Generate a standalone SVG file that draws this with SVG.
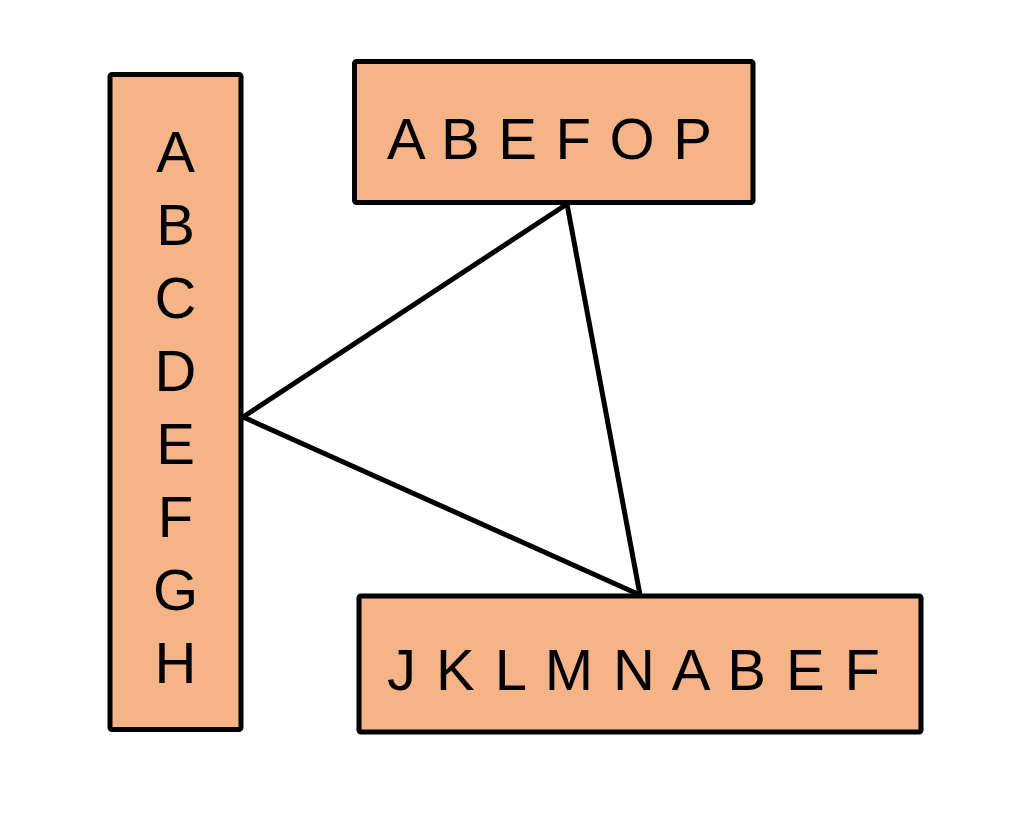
<svg xmlns="http://www.w3.org/2000/svg" width="1020" height="820" viewBox="0 0 1020 820">
<style>
.box{fill:#F5B388;stroke:#000;stroke-width:5}
.t{font-family:"Liberation Sans",Arial,sans-serif;font-size:58px;fill:#000}
.c{text-anchor:middle}
.ln{stroke:#000;stroke-width:5;fill:none;stroke-linecap:round}
</style>
<rect width="1020" height="820" fill="#fff"/>
<g id="connectors">
<line class="ln" x1="243" y1="417" x2="567" y2="204"/>
<line class="ln" x1="243" y1="417" x2="640" y2="595"/>
<line class="ln" x1="567" y1="204" x2="640" y2="595"/>
</g>
<g id="node-left">
<rect class="box" x="110" y="74.5" width="131" height="655" rx="2"/>
<text class="t c" x="175.5" y="172">A</text>
<text class="t c" x="175.5" y="245">B</text>
<text class="t c" x="175.5" y="318">C</text>
<text class="t c" x="175.5" y="391">D</text>
<text class="t c" x="175.5" y="464">E</text>
<text class="t c" x="175.5" y="537">F</text>
<text class="t c" x="175.5" y="610">G</text>
<text class="t c" x="175.5" y="683">H</text>
</g>
<g id="node-top">
<rect class="box" x="354.5" y="61.5" width="398.5" height="141" rx="2"/>
<text class="t" x="387" y="159" textLength="325" lengthAdjust="spacing">A B E F O P</text>
</g>
<g id="node-bottom">
<rect class="box" x="359" y="596" width="562" height="136" rx="2"/>
<text class="t" x="387" y="690" textLength="493" lengthAdjust="spacing">J K L M N A B E F</text>
</g>
</svg>
